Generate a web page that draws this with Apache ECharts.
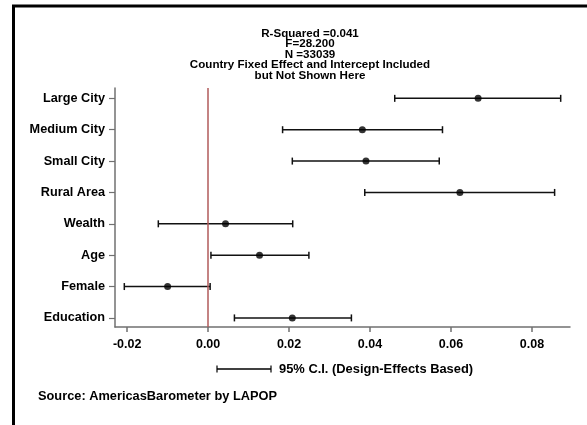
<!DOCTYPE html>
<html>
<head>
    <meta charset="UTF-8" />
    <title>regression coefficients</title>
    <script type="text/javascript" src="https://cdn.jsdelivr.net/npm/echarts@6/dist/echarts.min.js"></script>
    <style>
        body { margin: 0; background: #fff; }
    </style>
</head>
<body>

<div id="main" style="width: 587px;height: 425px;"></div>

<script>
    // categories, top to bottom
    var categories = ['Large City', 'Medium City', 'Small City', 'Rural Area', 'Wealth', 'Age', 'Female', 'Education'];
    // coefficient and 95% C.I.
    var estimates = [0.0667, 0.0381, 0.0390, 0.0622, 0.0043, 0.0127, -0.0100, 0.0208];
    var lower     = [0.0461, 0.0184, 0.0208, 0.0387, -0.0123, 0.0007, -0.0207, 0.0065];
    var upper     = [0.0871, 0.0579, 0.0571, 0.0856, 0.0209, 0.0249, 0.0005, 0.0354];
    var xTicks = [-0.02, 0, 0.02, 0.04, 0.06, 0.08];

    var titleLines = ['R-Squared =0.041', 'F=28.200', 'N =33039',
        'Country Fixed Effect and Intercept Included', 'but Not Shown Here'];

    var n = categories.length;
    // y position: first category on top
    function ypos(i) { return n - 1 - i; }

    var barData = [];
    var dotData = [];
    for (var i = 0; i < n; i++) {
        barData.push([lower[i], upper[i], ypos(i)]);
        dotData.push([estimates[i], ypos(i)]);
    }

    var yTickVals = [];
    for (var i = 0; i < n; i++) yTickVals.push(i);

    var font = 'Liberation Sans, Arial, sans-serif';
    var axisGray = '#707070';

    var mychart = echarts.init(document.getElementById('main'));

    option = {
        animation: false,
        backgroundColor: '#fff',
        grid: { left: 115, right: 17, top: 88, bottom: 98 },
        xAxis: {
            type: 'value',
            min: -0.023,
            max: 0.0894,
            splitLine: { show: false },
            axisLine: { show: true, onZero: false, lineStyle: { color: axisGray, width: 1.5 } },
            axisTick: { show: true, length: 5, customValues: xTicks, lineStyle: { color: axisGray, width: 1.5 } },
            axisLabel: {
                customValues: xTicks,
                margin: 11,
                color: '#000',
                fontFamily: font,
                fontWeight: 'bold',
                fontSize: 12.5,
                formatter: function (v) { return v.toFixed(2); }
            }
        },
        yAxis: {
            type: 'value',
            min: -0.29,
            max: 7.33,
            splitLine: { show: false },
            axisLine: { show: true, onZero: false, lineStyle: { color: axisGray, width: 1.5 } },
            axisTick: { show: true, length: 6, customValues: yTickVals, lineStyle: { color: axisGray, width: 1.2 } },
            axisLabel: {
                customValues: yTickVals,
                margin: 10,
                color: '#000',
                fontFamily: font,
                fontWeight: 'bold',
                fontSize: 12.7,
                formatter: function (v) { return categories[n - 1 - Math.round(v)]; }
            }
        },
        title: {
            text: titleLines.join('\n'),
            left: 305,
            top: 23,
            textAlign: 'center',
            textStyle: {
                fontFamily: font,
                fontWeight: 'bold',
                fontSize: 11.6,
                lineHeight: 10.6,
                color: '#000'
            }
        },
        graphic: [
            // outer frame
            { type: 'polyline', shape: { points: [[13.5, 425], [13.5, 6], [587, 6]] },
              style: { stroke: '#000', lineWidth: 3, fill: null } },
            // legend sample
            { type: 'line', shape: { x1: 217, y1: 369, x2: 271, y2: 369 }, style: { stroke: '#000', lineWidth: 1.5 } },
            { type: 'line', shape: { x1: 217, y1: 365.5, x2: 217, y2: 372.5 }, style: { stroke: '#000', lineWidth: 1.2 } },
            { type: 'line', shape: { x1: 271, y1: 365.5, x2: 271, y2: 372.5 }, style: { stroke: '#000', lineWidth: 1.2 } },
            { type: 'text', left: 279, top: 363,
              style: { text: '95% C.I. (Design-Effects Based)', font: 'bold 12.9px ' + font, fill: '#000' } },
            { type: 'text', left: 38, top: 390,
              style: { text: 'Source: AmericasBarometer by LAPOP', font: 'bold 12.8px ' + font, fill: '#000' } }
        ],
        series: [
            {
                type: 'custom',
                data: barData,
                renderItem: function (params, api) {
                    var y = api.value(2);
                    var p1 = api.coord([api.value(0), y]);
                    var p2 = api.coord([api.value(1), y]);
                    var h = 3.5;
                    var st = { stroke: '#111', lineWidth: 1.5 };
                    return {
                        type: 'group',
                        children: [
                            { type: 'line', shape: { x1: p1[0], y1: p1[1], x2: p2[0], y2: p2[1] }, style: st },
                            { type: 'line', shape: { x1: p1[0], y1: p1[1] - h, x2: p1[0], y2: p1[1] + h }, style: st },
                            { type: 'line', shape: { x1: p2[0], y1: p2[1] - h, x2: p2[0], y2: p2[1] + h }, style: st }
                        ]
                    };
                },
                z: 3
            },
            {
                type: 'scatter',
                data: dotData,
                symbol: 'circle',
                symbolSize: 7,
                itemStyle: { color: '#000' },
                z: 4,
                markLine: {
                    silent: true,
                    symbol: 'none',
                    label: { show: false },
                    lineStyle: { color: '#b05a5a', width: 1.5, type: 'solid' },
                    data: [{ xAxis: 0 }]
                }
            }
        ]
    };

    mychart.setOption(option);
</script>

</body>
</html>
